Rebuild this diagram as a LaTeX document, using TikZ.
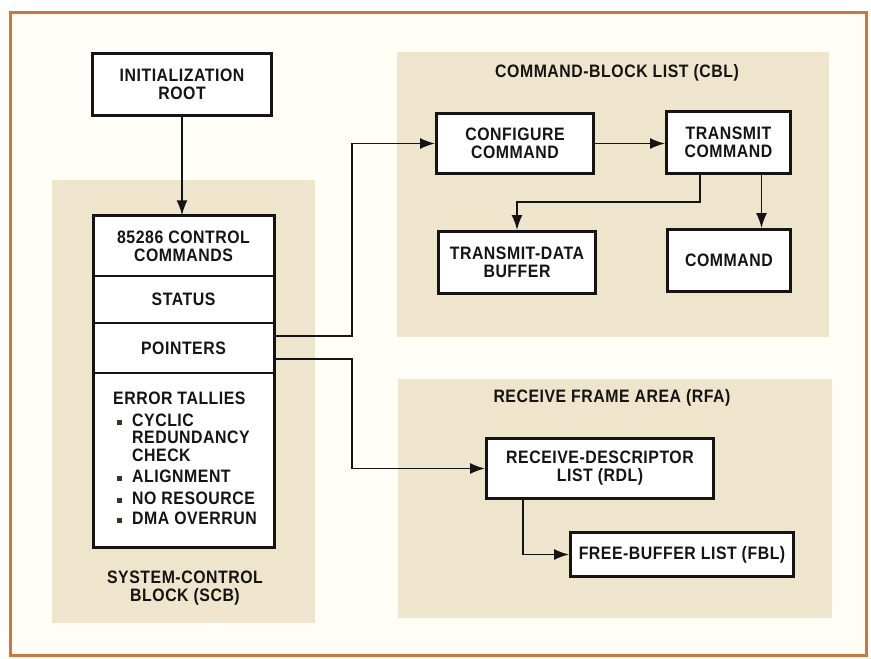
\documentclass[tikz,border=0pt]{standalone}
\usepackage{fontspec}
\setmainfont{Liberation Sans}[FakeStretch=0.88,LetterSpace=3]
\usetikzlibrary{arrows.meta,positioning,calc}
\definecolor{panel}{HTML}{EFE5CC}
\definecolor{paper}{HTML}{FEFEF7}
\definecolor{rim}{HTML}{CF7638}
\definecolor{ink}{HTML}{141414}
\definecolor{dotgreen}{HTML}{2F3A22}
\tikzstyle{block}=[draw=ink,line width=3pt,fill=white,align=center,inner sep=0pt]
\tikzstyle{cell}=[draw=ink,line width=1.5pt,fill=white,align=center,inner sep=0pt,minimum width=179.5pt]
\tikzstyle{area}=[fill=panel]
\tikzstyle{title}=[text=ink,align=center]
\tikzstyle{arr}=[draw=ink,line width=1.5pt,-{Latex[length=15pt,width=11pt]}]
\newcommand{\itm}{\hspace*{4pt}\textcolor{dotgreen}{\rule[1.5pt]{5pt}{5pt}}\hspace{10pt}}
\newcommand{\cont}{\hspace*{19pt}}

\begin{document}
\begin{tikzpicture}[x=1pt,y=-1pt,font=\bfseries\fontsize{18}{18}\selectfont,text=ink]
\useasboundingbox (0,0) rectangle (871,659);
% page and frame
\fill[white] (0,0) rectangle (871,659);
\filldraw[fill=paper,draw=rim,line width=3pt] (10,12) rectangle (866,655);
% shaded areas
\fill[area] (52,180) rectangle (315,623);
\fill[area] (397,52) rectangle (829,337);
\fill[area] (398,379) rectangle (832,618);

% root
\node [block,minimum width=179pt,minimum height=62pt] (init) at (182,84.5) {INITIALIZATION\\ROOT};

% system-control block
\node [cell,minimum height=60pt] (scbcmd) at (183.5,246) {85286 CONTROL\\COMMANDS};
\node [cell,minimum height=47pt] (scbstat) at (183.5,299.5) {STATUS};
\node [cell,minimum height=50pt] (scbptr) at (183.5,348) {POINTERS};
\node [cell,minimum height=174pt] (scberr) at (183.5,460) {};
\node [anchor=west,align=left,inner sep=0pt] (errlist) at (113,458) {%
  ERROR TALLIES\\[4pt]
  \itm CYCLIC\\[-1pt]
  \cont REDUNDANCY\\
  \cont CHECK\\[3pt]
  \itm ALIGNMENT\\[4pt]
  \itm NO RESOURCE\\[2pt]
  \itm DMA OVERRUN};
\draw[ink,line width=3pt] (scbcmd.north west) rectangle (scberr.south east);
\node [title] (scbtitle) at (185,588) {SYSTEM-CONTROL\\BLOCK (SCB)};

% command-block list
\node [title] (cbltitle) at (617,73) {COMMAND-BLOCK LIST (CBL)};
\node [block,minimum width=157pt,minimum height=60pt] (cfg) at (515,143.5) {CONFIGURE\\COMMAND};
\node [block,minimum width=124pt,minimum height=62pt] (xmit) at (728.5,142.5) {TRANSMIT\\COMMAND};
\node [block,minimum width=157pt,minimum height=62pt] (xbuf) at (517,262.5) {TRANSMIT-DATA\\BUFFER};
\node [block,minimum width=123pt,minimum height=62pt] (cmd) at (729,260.5) {COMMAND};

% receive frame area
\node [title] (rfatitle) at (612,398) {RECEIVE FRAME AREA (RFA)};
\node [block,minimum width=227pt,minimum height=60pt] (rdl) at (600,468.5) {RECEIVE-DESCRIPTOR\\LIST (RDL)};
\node [block,minimum width=223pt,minimum height=44pt] (fbl) at (682,554.5) {FREE-BUFFER LIST (FBL)};

% links
\draw[arr] (init.south) -- (init.south |- scbcmd.north);
\draw[arr] (cfg.east) -- (cfg.east -| xmit.west);
\draw[arr] ([xshift=-28.5pt]xmit.south) -- ++(0,27) -| (xbuf.north);
\draw[arr] ([xshift=33pt]xmit.south) -- ([xshift=33pt]xmit.south |- cmd.north);
\draw[arr] ([yshift=12pt]scbptr.east) -- ++(78,0) |- (cfg.west);
\draw[arr] ([yshift=-11pt]scbptr.east) -- ++(78,0) |- (rdl.west);
\draw[arr] ([xshift=-77pt]rdl.south) |- (fbl.west);
\end{tikzpicture}
\end{document}
